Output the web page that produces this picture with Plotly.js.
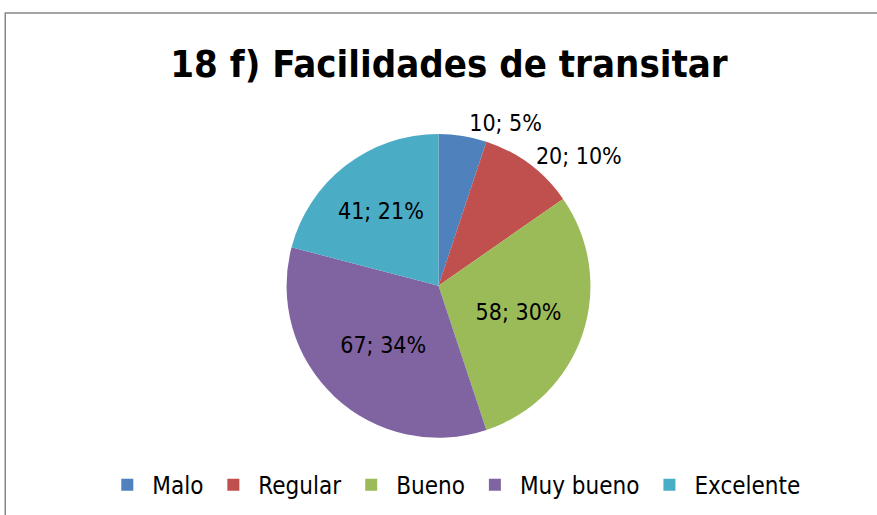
<!DOCTYPE html>
<html><head><meta charset="utf-8">
<script src="https://cdn.plot.ly/plotly-3.0.1.min.js"></script>
<style>html,body{margin:0;padding:0;background:#fff}#chart{width:877px;height:515px}</style>
</head><body><div id="chart"></div>
<script>
const categories = ['Malo', 'Regular', 'Bueno', 'Muy bueno', 'Excelente'];
const values = [10, 20, 58, 67, 41];
const colors = ['#4F81BD', '#C0504D', '#9BBB59', '#8064A2', '#4BACC6'];
const titleText = '18 f) Facilidades de transitar';
const textPositions = ['outside', 'outside', 'inside', 'inside', 'inside'];

const FONT = '"Liberation Sans Narrow", "DejaVu Sans Condensed", "Arial Narrow", sans-serif';

const data = [{
  type: 'pie',
  labels: categories,
  values: values,
  sort: false,
  direction: 'clockwise',
  rotation: 0,
  marker: {colors: colors, line: {width: 0}},
  texttemplate: '%{value}; %{percent:.0%}',
  textposition: textPositions,
  insidetextorientation: 'horizontal',
  textfont: {family: FONT, size: 23, color: '#000'},
  outsidetextfont: {family: FONT, size: 23, color: '#000'},
  insidetextfont: {family: FONT, size: 23, color: '#000'},
  hoverinfo: 'label+value+percent',
  domain: {x: [0.15, 0.85], y: [0.15, 0.74]}
}];

const layout = {
  width: 877, height: 515,
  margin: {l: 0, r: 0, t: 0, b: 0},
  paper_bgcolor: '#fff',
  title: {text: '<b>' + titleText + '</b>', font: {family: FONT, size: 38, color: '#000'}, x: 0.512, xanchor: 'center', y: 0.876, yanchor: 'middle'},
  showlegend: true,
  legend: {orientation: 'h', x: 0.518, xanchor: 'center', y: 0.058, yanchor: 'middle',
    font: {family: FONT, size: 24, color: '#000'}, itemwidth: 40, traceorder: 'normal'},
  shapes: [{type: 'rect', xref: 'paper', yref: 'paper', x0: 0.006, x1: 1.01, y0: -0.01, y1: 0.975,
    line: {color: '#868686', width: 1.5}, fillcolor: 'rgba(0,0,0,0)'}]
};

Plotly.newPlot('chart', data, layout, {displayModeBar: false, staticPlot: true});
</script></body></html>
